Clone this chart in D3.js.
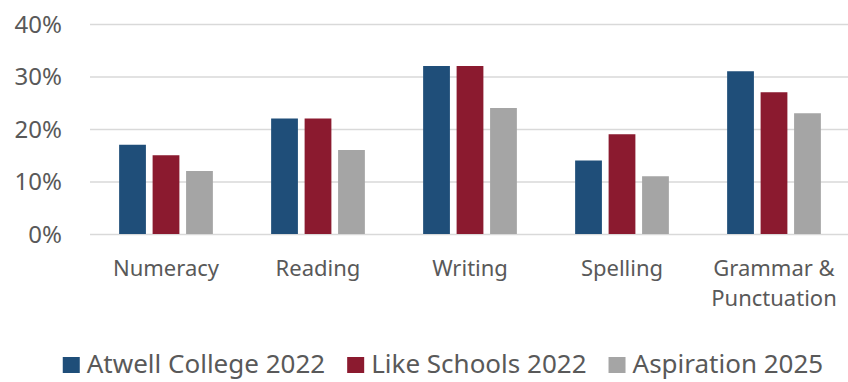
<!DOCTYPE html>
<html>
<head>
<meta charset="utf-8">
<script src="https://cdn.jsdelivr.net/npm/d3@7"></script>
<style>
  html, body { margin: 0; padding: 0; background: #fff; }
  svg { display: block; }
  svg text { font-family: "Noto Sans", "Open Sans", sans-serif; }
</style>
</head>
<body>
<svg id="chart" width="848" height="382"></svg>
<script>
// Subject areas along the x axis (multi-line labels split on "\n")
const categories = ["Numeracy", "Reading", "Writing", "Spelling", "Grammar &\nPunctuation"];
const seriesNames = ["Atwell College 2022", "Like Schools 2022", "Aspiration 2025"];
const atwell2022 = [0.17, 0.22, 0.32, 0.14, 0.31];
const likeSchools2022 = [0.15, 0.22, 0.32, 0.19, 0.27];
const aspiration2025 = [0.12, 0.16, 0.24, 0.11, 0.23];
const yTicks = [0, 0.1, 0.2, 0.3, 0.4];
const colors = ["#1f4e79", "#8b1a2f", "#a5a5a5"];

const seriesValues = [atwell2022, likeSchools2022, aspiration2025];
const rows = categories.map((c, i) => ({
  category: c,
  values: seriesNames.map((s, k) => ({ series: s, value: seriesValues[k][i] }))
}));

const fontStack = "'Noto Sans', 'Open Sans', sans-serif";
const textColor = "#595959";
const svg = d3.select("#chart");
const plot = { left: 90, right: 850, top: 24, bottom: 234 };

const x0 = d3.scaleBand().domain(categories).range([plot.left, plot.right]).padding(0);
const x1 = d3.scaleBand().domain(seriesNames).range([0, x0.bandwidth()])
  .paddingInner(0.2).paddingOuter(0.87);
const y = d3.scaleLinear().domain([0, 0.4]).range([plot.bottom, plot.top]);
const color = d3.scaleOrdinal().domain(seriesNames).range(colors);

// Horizontal gridlines and percentage labels
const yAxis = d3.axisLeft(y).tickValues(yTicks).tickFormat(d3.format(".0%"))
  .tickSize(-(plot.right - plot.left - 2)).tickPadding(28);
const gy = svg.append("g").attr("transform", `translate(${plot.left},0)`).call(yAxis);
gy.select(".domain").remove();
gy.selectAll(".tick line").attr("stroke", "#d9d9d9").attr("stroke-width", 1.5);
gy.selectAll(".tick text").attr("fill", textColor)
  .style("font-family", fontStack).style("font-size", "24px")
  .attr("dy", "0.35em");

// Grouped bars
const groups = svg.append("g").selectAll("g").data(rows).join("g")
  .attr("transform", d => `translate(${x0(d.category)},0)`);
groups.selectAll("rect").data(d => d.values).join("rect")
  .attr("x", d => x1(d.series))
  .attr("y", d => y(d.value))
  .attr("width", x1.bandwidth())
  .attr("height", d => y(0) - y(d.value))
  .attr("fill", d => color(d.series));

// Category labels
const gx = svg.append("g").attr("transform", `translate(0,${plot.bottom})`)
  .call(d3.axisBottom(x0).tickSize(0).tickFormat(""));
gx.select(".domain").remove();
gx.selectAll(".tick").each(function (d) {
  const t = d3.select(this).append("text")
    .attr("fill", textColor).attr("text-anchor", "middle")
    .style("font-family", fontStack).style("font-size", "22px");
  d.split("\n").forEach((line, i) => {
    t.append("tspan").attr("x", 0).attr("y", 42 + i * 30).text(line);
  });
});

// Legend, centred under the plot
const legend = svg.append("g").attr("transform", "translate(0,373)");
const items = legend.selectAll("g").data(seriesNames).join("g");
items.append("rect").attr("y", -16).attr("width", 17).attr("height", 16)
  .attr("fill", d => color(d));
items.append("text").attr("x", 24).attr("fill", textColor)
  .style("font-family", fontStack).style("font-size", "26px")
  .text(d => d);
const widths = [];
items.each(function () {
  widths.push(24 + d3.select(this).select("text").node().getComputedTextLength());
});
const gap = 22;
const total = d3.sum(widths) + gap * (widths.length - 1);
let cursor = 443 - total / 2;
items.attr("transform", (d, i) => {
  const xPos = cursor;
  cursor += widths[i] + gap;
  return `translate(${xPos},0)`;
});
</script>
</body>
</html>
